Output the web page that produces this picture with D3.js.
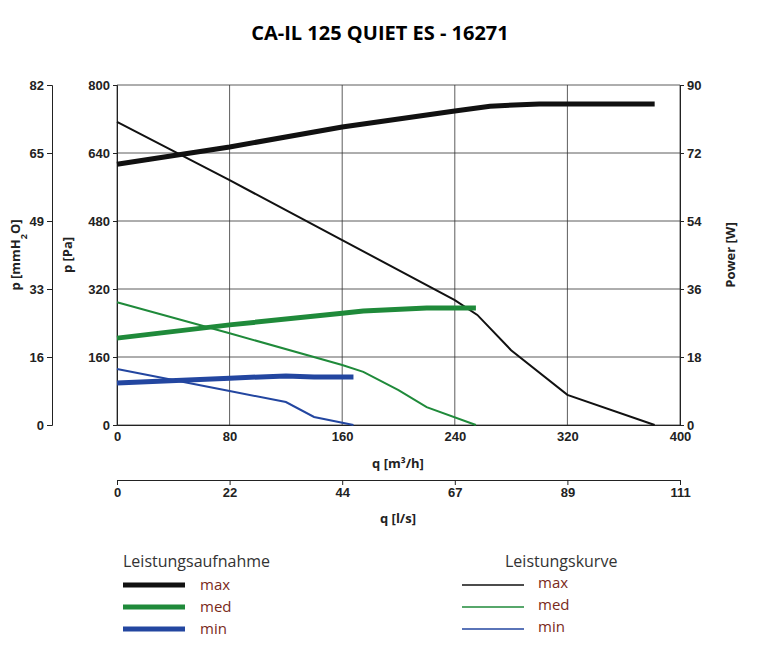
<!DOCTYPE html>
<html><head><meta charset="utf-8">
<script src="https://cdn.jsdelivr.net/npm/d3@7"></script>
<style>body{margin:0;background:#fff;font-family:"Open Sans",sans-serif}</style>
</head><body><svg id="c" width="761" height="650"></svg>
<script>
// data
var xTicks = [0, 80, 160, 240, 320, 400];
var lsTicks = ["0", "22", "44", "67", "89", "111"];
var paTicks = [0, 160, 320, 480, 640, 800];
var mmTicks = ["0", "16", "33", "49", "65", "82"];
var wTicks = [0, 18, 36, 54, 72, 90];

// pressure curves [q m3/h, Pa]
var pMax = [[0,713],[80,576],[160,435],[240,294],[256,259],[280,176],[320,71],[382,0]];
var pMed = [[0,289],[80,216],[160,141],[175,125],[200,82],[220,42],[255,0]];
var pMin = [[0,132],[40,106],[80,80],[120,54],[140,19],[168,0]];
// power curves [q m3/h, W]
var wMax = [[0,69],[80,73.6],[160,78.9],[240,83.1],[265,84.4],[300,85],[320,85],[382,85]];
var wMed = [[0,23],[80,26.5],[160,29.6],[175,30.2],[220,31],[255,31]];
var wMin = [[0,11.1],[80,12.4],[120,13],[140,12.7],[168,12.7]];

var colors = {max: "#111", med: "#1f8a3a", min: "#2346a0"};

var svg = d3.select("#c");
var L = 117, R = 680, T = 85, B = 425;

var x = d3.scaleLinear().domain([0, 400]).range([L, R]);
var y = d3.scaleLinear().domain([0, 800]).range([B, T]);
var yW = d3.scaleLinear().domain([0, 90]).range([B, T]);
var yMm = d3.scalePoint().domain(mmTicks).range([B, T]);
var xLs = d3.scalePoint().domain(lsTicks).range([L, R]);

svg.append("text").attr("x", 380).attr("y", 40).attr("text-anchor", "middle")
    .style("font-size", "20px").style("font-weight", "bold").text("CA-IL 125 QUIET ES - 16271");

// grid
svg.append("g").selectAll("line").data(xTicks).enter().append("line")
    .attr("x1", d => x(d)).attr("x2", d => x(d)).attr("y1", T).attr("y2", B)
    .attr("stroke", "#333").attr("stroke-width", 0.8);
svg.append("g").selectAll("line").data(paTicks).enter().append("line")
    .attr("x1", L).attr("x2", R).attr("y1", d => y(d)).attr("y2", d => y(d))
    .attr("stroke", "#333").attr("stroke-width", 0.8);

function styleAxis(g) {
    g.selectAll("path,line").attr("stroke", "#222");
    g.selectAll("text").style("font-size", "13px").style("font-weight", "bold").attr("fill", "#222");
}

styleAxis(svg.append("g").attr("transform", "translate(" + L + ",0)")
    .call(d3.axisLeft(y).tickValues(paTicks).tickSize(4)));
styleAxis(svg.append("g").attr("transform", "translate(" + R + ",0)")
    .call(d3.axisRight(yW).tickValues(wTicks).tickSize(4)));
styleAxis(svg.append("g").attr("transform", "translate(52,0)")
    .call(d3.axisLeft(yMm).tickSize(5)));
styleAxis(svg.append("g").attr("transform", "translate(0," + B + ")")
    .call(d3.axisBottom(x).tickValues(xTicks).tickSize(0).tickPadding(7)));
styleAxis(svg.append("g").attr("transform", "translate(0,480)")
    .call(d3.axisBottom(xLs).tickSize(5)));

function label(t, px, py, rot) {
    var e = svg.append("text").attr("text-anchor", "middle").style("font-size", "13px")
        .style("font-weight", "bold").attr("fill", "#222")
        .attr("transform", "translate(" + px + "," + py + ")" + (rot ? " rotate(-90)" : ""));
    return e.text(t);
}
var mm = label("", 20, 255, true);
mm.append("tspan").text("p [mmH");
mm.append("tspan").attr("baseline-shift", "sub").style("font-size", "9px").text("2");
mm.append("tspan").text("O]");
label("p [Pa]", 72, 255, true);
label("Power [W]", 735, 255, true);
label("q [m³/h]", 398, 468, false);
label("q [l/s]", 398, 523, false);

var line = function (ys) {
    return d3.line().x(d => x(d[0])).y(d => ys(d[1]));
};
[[pMax, "max"], [pMed, "med"], [pMin, "min"]].forEach(function (s) {
    svg.append("path").datum(s[0]).attr("fill", "none").attr("stroke", colors[s[1]])
        .attr("stroke-width", 2).attr("d", line(y));
});
[[wMax, "max"], [wMed, "med"], [wMin, "min"]].forEach(function (s) {
    svg.append("path").datum(s[0]).attr("fill", "none").attr("stroke", colors[s[1]])
        .attr("stroke-width", 5).attr("d", line(yW));
});

// legends
var names = ["max", "med", "min"];
function legend(title, x0, titleX, w, textX, dy) {
    svg.append("text").attr("x", titleX).attr("y", 567).style("font-size", "16px")
        .attr("fill", "#333").text(title);
    names.forEach(function (n, i) {
        var yy = 585 + i * 22;
        svg.append("line").attr("x1", x0).attr("x2", x0 + 62).attr("y1", yy).attr("y2", yy)
            .attr("stroke", colors[n]).attr("stroke-width", w);
        svg.append("text").attr("x", textX).attr("y", yy + dy).style("font-size", "15px")
            .attr("fill", "#7a2a1a").text(n);
    });
}
legend("Leistungsaufnahme", 123, 123, 5, 200, 5);
legend("Leistungskurve", 462, 505, 1.5, 538, 3);
</script></body></html>
